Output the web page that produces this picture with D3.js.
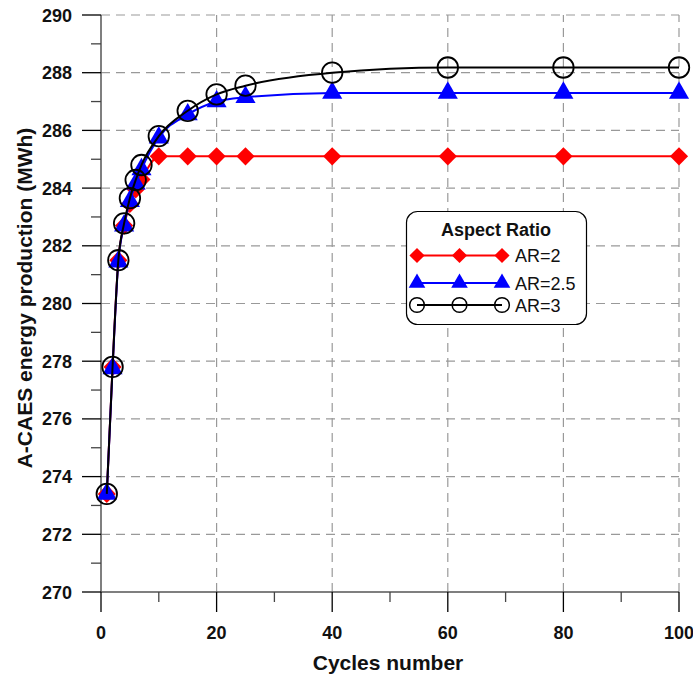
<!DOCTYPE html>
<html><head><meta charset="utf-8">
<script src="https://cdn.jsdelivr.net/npm/d3@7"></script>
<style>body{margin:0;background:#fff}svg{display:block}</style>
</head><body>
<svg id="c" width="693" height="676"></svg>
<script>
const cycles = [1, 2, 3, 4, 5, 6, 7, 10, 15, 20, 25, 40, 60, 80, 100];
const ar2   = [273.4, 277.8, 281.5, 282.7, 283.45, 283.95, 284.3, 285.1, 285.1, 285.1, 285.1, 285.1, 285.1, 285.1, 285.1];
const ar25  = [273.4, 277.75, 281.45, 282.7, 283.55, 284.15, 284.65, 285.75, 286.55, 287.0, 287.15, 287.3, 287.3, 287.3, 287.3];
const ar3   = [273.4, 277.8, 281.5, 282.78, 283.65, 284.28, 284.8, 285.8, 286.68, 287.25, 287.55, 288.0, 288.18, 288.18, 288.18];
const seriesNames = ["AR=2", "AR=2.5", "AR=3"];
const xTicks = [0, 20, 40, 60, 80, 100];
const yTicks = [270, 272, 274, 276, 278, 280, 282, 284, 286, 288, 290];
const legendTitle = "Aspect Ratio";
const xTitle = "Cycles number";
const yTitle = "A-CAES energy production (MWh)";

const svg = d3.select("#c");
const L = 101, R = 679, T = 15, B = 592;
const x = d3.scaleLinear().domain([0, 100]).range([L, R]);
const y = d3.scaleLinear().domain([270, 290]).range([B, T]);
const font = "'Liberation Sans', Arial, sans-serif";

// grid
const g = svg.append("g");
g.selectAll(".gx").data(xTicks.slice(1)).join("line")
  .attr("x1", d => x(d)).attr("x2", d => x(d)).attr("y1", B).attr("y2", T)
  .attr("stroke", "#999").attr("stroke-width", 1.2).attr("stroke-dasharray", "9,6");
g.selectAll(".gy").data(yTicks.slice(1)).join("line")
  .attr("y1", d => y(d)).attr("y2", d => y(d)).attr("x1", L).attr("x2", R)
  .attr("stroke", "#999").attr("stroke-width", 1.2).attr("stroke-dasharray", "9,6");

// axes
const ax = svg.append("g");
ax.append("line").attr("x1", L).attr("x2", R).attr("y1", B).attr("y2", B).attr("stroke", "#555").attr("stroke-width", 1.5);
ax.append("line").attr("x1", L).attr("x2", L).attr("y1", B).attr("y2", T).attr("stroke", "#555").attr("stroke-width", 1.5);
const xt = d3.range(0, 101, 10);
ax.selectAll(".xt").data(xt).join("line")
  .attr("x1", d => x(d)).attr("x2", d => x(d)).attr("y1", B)
  .attr("y2", d => B + (d % 20 === 0 ? 20 : 10))
  .attr("stroke", d => d % 20 === 0 ? "#000" : "#444").attr("stroke-width", 1.3);
const yt = d3.range(270, 290.1, 1);
ax.selectAll(".yt").data(yt).join("line")
  .attr("y1", d => y(d)).attr("y2", d => y(d)).attr("x1", L)
  .attr("x2", d => L - ((d - 270) % 2 === 0 ? 19 : 10))
  .attr("stroke", d => (d - 270) % 2 === 0 ? "#000" : "#444").attr("stroke-width", 1.3);
ax.selectAll(".xl").data(xTicks).join("text")
  .attr("x", d => x(d)).attr("y", 638.5).attr("text-anchor", "middle")
  .attr("font-family", font).attr("font-weight", "bold").attr("font-size", 18).attr("fill", "#111")
  .text(d => d);
ax.selectAll(".yl").data(yTicks).join("text")
  .attr("x", 72).attr("y", d => y(d) + 6.5).attr("text-anchor", "end")
  .attr("font-family", font).attr("font-weight", "bold").attr("font-size", 18).attr("fill", "#111")
  .text(d => d);
svg.append("text").attr("x", 388).attr("y", 670).attr("text-anchor", "middle")
  .attr("font-family", font).attr("font-weight", "bold").attr("font-size", 21).attr("fill", "#111").text(xTitle);
svg.append("text").attr("transform", "translate(32,298) rotate(-90)").attr("text-anchor", "middle")
  .attr("font-family", font).attr("font-weight", "bold").attr("font-size", 21).attr("fill", "#111").text(yTitle);

// series
const series = [
  {name: seriesNames[0], vals: ar2, color: "#ff0000", sym: d3.symbolSquare, rot: 45, size: 165, fill: "#ff0000"},
  {name: seriesNames[1], vals: ar25, color: "#0000ff", sym: d3.symbolTriangle, rot: 0, size: 175, fill: "#0000ff"},
  {name: seriesNames[2], vals: ar3, color: "#000000", sym: d3.symbolCircle, rot: 0, size: 330, fill: "none"}
];
const line = d3.line().x(d => x(d[0])).y(d => y(d[1])).curve(d3.curveMonotoneX);
series.forEach(s => {
  const pts = cycles.map((c, i) => [c, s.vals[i]]);
  svg.append("path").datum(pts).attr("d", line).attr("fill", "none")
    .attr("stroke", s.color).attr("stroke-width", 2);
  svg.selectAll(null).data(pts).join("path")
    .attr("transform", d => `translate(${x(d[0])},${y(d[1])}) rotate(${s.rot})`)
    .attr("d", d3.symbol().type(s.sym).size(s.size))
    .attr("fill", s.fill).attr("stroke", s.fill === "none" ? "#000" : "none").attr("stroke-width", 1.8);
});

// legend
const lg = svg.append("g");
lg.append("rect").attr("x", 406.5).attr("y", 211.5).attr("width", 180).attr("height", 113).attr("rx", 11)
  .attr("fill", "#fff").attr("stroke", "#000").attr("stroke-width", 1.2);
lg.append("text").attr("x", 496).attr("y", 236).attr("text-anchor", "middle")
  .attr("font-family", font).attr("font-weight", "bold").attr("font-size", 18).attr("fill", "#111").text(legendTitle);
const rowsY = [255.5, 283, 305];
const legSizes = [115, 120, 170];
series.forEach((s, i) => {
  const ly = rowsY[i];
  lg.append("line").attr("x1", 417).attr("x2", 502).attr("y1", ly).attr("y2", ly)
    .attr("stroke", s.color).attr("stroke-width", 2);
  [417, 459.5, 502].forEach(px => {
    lg.append("path").attr("transform", `translate(${px},${ly}) rotate(${s.rot})`)
      .attr("d", d3.symbol().type(s.sym).size(legSizes[i]))
      .attr("fill", s.fill === "none" ? "#fff" : s.fill).attr("stroke", s.fill === "none" ? "#000" : "none").attr("stroke-width", 1.5);
  });
  if (s.fill === "none") {
    lg.append("line").attr("x1", 417).attr("x2", 502).attr("y1", ly).attr("y2", ly).attr("stroke", "#000").attr("stroke-width", 2);
  }
  lg.append("text").attr("x", 515).attr("y", ly + 6.5).attr("font-family", font).attr("font-size", 18).attr("fill", "#111").text(s.name);
});
</script>
</body></html>
